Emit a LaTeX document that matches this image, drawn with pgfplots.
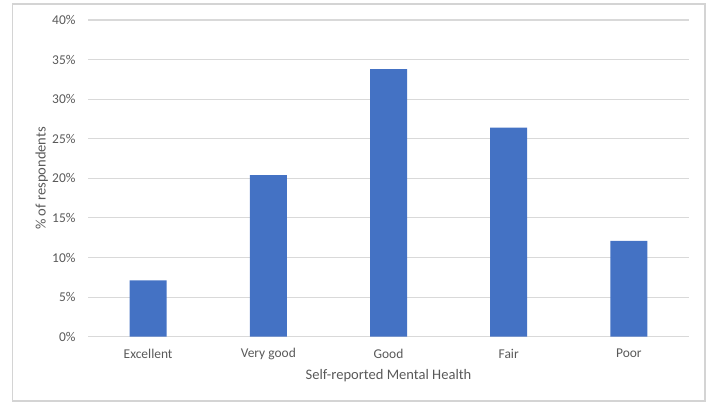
\documentclass[border=0pt]{standalone}
\usepackage{fontspec}
\setmainfont{Carlito}
\usepackage{pgfplots}
\pgfplotsset{compat=1.18}
\definecolor{barblue}{HTML}{4472C4}
\definecolor{gridgray}{HTML}{D9D9D9}
\definecolor{textgray}{HTML}{595959}
\definecolor{framegray}{HTML}{D4D4D4}
\begin{document}
\begin{tikzpicture}[x=1bp,y=1bp]
\path[use as bounding box] (0,0) rectangle (709,402);
% chart area frame
\draw[framegray, line width=1.2bp] (12.5,1) rectangle (705,398);
\begin{axis}[
  at={(88bp,65.3bp)}, anchor=south west,
  scale only axis, width=601bp, height=316.7bp,
  xmin=-0.5, xmax=4.5, ymin=0, ymax=40,
  ytick={0,5,...,40},
  xtick={0,1,2,3,4},
  xticklabels={Excellent,Very good,Good,Fair,Poor},
  axis line style={draw=none},
  major tick length=0pt,
  ymajorgrids,
  grid style={gridgray, line width=1.1bp},
  /pgf/number format/assume math mode=true,
  yticklabel={\pgfmathprintnumber{\tick}\%},
  ticklabel style={font=\fontsize{13.5}{15}\selectfont, text=textgray},
  yticklabel style={anchor=east, xshift=-9bp},
  xticklabel style={anchor=center, yshift=-17bp},
  label style={font=\fontsize{14.6}{17}\selectfont, text=textgray},
  xlabel={Self-reported Mental Health},
  ylabel={\% of respondents},
  xlabel style={at={(axis description cs:0.5,-0.123)}, anchor=center},
  ylabel style={at={(axis description cs:-0.077,0.5)}, anchor=center},
  ybar, bar width=37bp, bar shift=0pt,
]
\addplot[fill=barblue, draw=none] coordinates {
  (0,7.1) (1,20.4) (2,33.8) (3,26.4) (4,12.1)
};
\end{axis}
\end{tikzpicture}
\end{document}
